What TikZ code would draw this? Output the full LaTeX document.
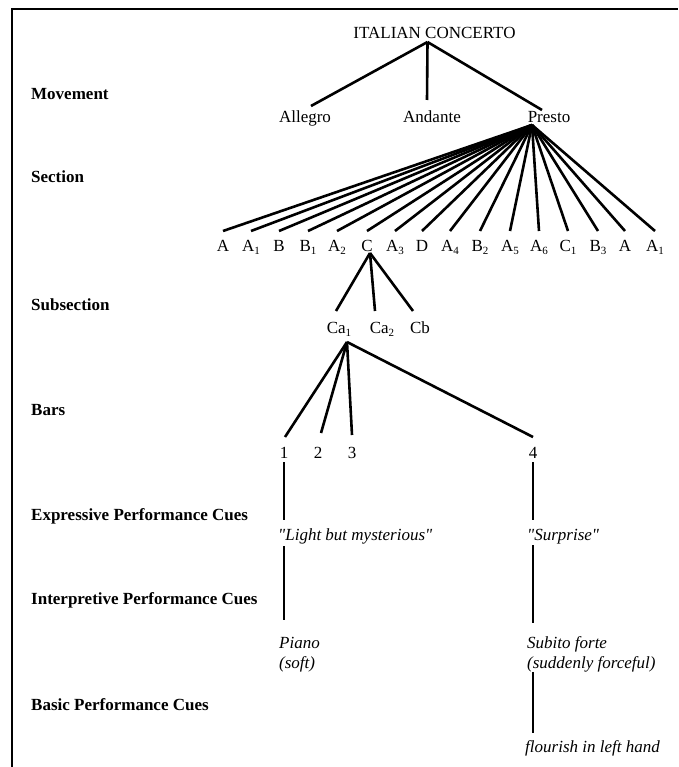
\documentclass[tikz,border=0pt]{standalone}
\usepackage{fontspec}
\setmainfont{Liberation Serif}[Ligatures=TeXOff]
\newcommand{\low}[1]{\raisebox{-3.5pt}{\fontsize{11}{11}\selectfont #1}}

\begin{document}
\begin{tikzpicture}[x=1pt,y=1pt,
  term/.style={inner sep=0pt,anchor=base,font=\fontsize{17}{20}\selectfont},
  rowname/.style={inner sep=0pt,anchor=base west,font=\fontsize{17}{20}\selectfont\bfseries},
  cue/.style={inner sep=0pt,anchor=base west,align=left,font=\fontsize{17}{20}\selectfont\itshape},
  branch/.style={line width=2.6pt}]
\useasboundingbox (0,0) rectangle (678,-767);
% frame
\draw [line width=1.5pt] (12,-767) -- (12,-9) -- (678,-9);

% level names
\node [rowname] (movement) at (31,-100) {Movement};
\node [rowname] (section) at (31,-183) {Section};
\node [rowname] (subsection) at (31,-310) {Subsection};
\node [rowname] (bars) at (31,-415) {Bars};
\node [rowname] (expressive) at (31,-520) {Expressive Performance Cues};
\node [rowname] (interpretive) at (31,-604) {Interpretive Performance Cues};
\node [rowname] (basic) at (31,-710) {Basic Performance Cues};

% piece and movements
\node [term] (title) at (434.5,-39) {ITALIAN CONCERTO};
\node [term] (allegro) at (305,-123) {Allegro};
\node [term] (andante) at (432,-123) {Andante};
\node [term] (presto) at (549,-123) {Presto};
\coordinate (tj) at ([xshift=-7pt,yshift=-3pt]title.base);
\draw [branch] (tj) -- ([xshift=6pt,yshift=17pt]allegro.base);
\draw [branch] (tj) -- ([xshift=-5pt,yshift=23pt]andante.base);
\draw [branch] (tj) -- ([xshift=-7pt,yshift=13pt]presto.base);

% sections of the presto
\node [term] (s1) at (223,-251) {A};
\node [term] (s2) at (251,-251) {A\low{1}};
\node [term] (s3) at (279,-251) {B};
\node [term] (s4) at (308,-251) {B\low{1}};
\node [term] (s5) at (337,-251) {A\low{2}};
\node [term] (s6) at (367,-251) {C};
\node [term] (s7) at (395,-251) {A\low{3}};
\node [term] (s8) at (422,-251) {D};
\node [term] (s9) at (450,-251) {A\low{4}};
\node [term] (s10) at (480,-251) {B\low{2}};
\node [term] (s11) at (510,-251) {A\low{5}};
\node [term] (s12) at (539,-251) {A\low{6}};
\node [term] (s13) at (568,-251) {C\low{1}};
\node [term] (s14) at (598,-251) {B\low{3}};
\node [term] (s15) at (625,-251) {A};
\node [term] (s16) at (655,-251) {A\low{1}};
\coordinate (pj) at ([xshift=-17pt,yshift=-2pt]presto.base);
\draw [branch] (pj) -- ([yshift=20pt]s1.base);
\draw [branch] (pj) -- ([yshift=20pt]s2.base);
\draw [branch] (pj) -- ([yshift=20pt]s3.base);
\draw [branch] (pj) -- ([yshift=20pt]s4.base);
\draw [branch] (pj) -- ([yshift=20pt]s5.base);
\draw [branch] (pj) -- ([yshift=20pt]s6.base);
\draw [branch] (pj) -- ([yshift=20pt]s7.base);
\draw [branch] (pj) -- ([yshift=20pt]s8.base);
\draw [branch] (pj) -- ([yshift=20pt]s9.base);
\draw [branch] (pj) -- ([yshift=20pt]s10.base);
\draw [branch] (pj) -- ([yshift=20pt]s11.base);
\draw [branch] (pj) -- ([yshift=20pt]s12.base);
\draw [branch] (pj) -- ([yshift=20pt]s13.base);
\draw [branch] (pj) -- ([yshift=20pt]s14.base);
\draw [branch] (pj) -- ([yshift=20pt]s15.base);
\draw [branch] (pj) -- ([yshift=20pt]s16.base);

% subsections of C
\node [term] (ca1) at (339,-333) {Ca\low{1}};
\node [term] (ca2) at (382,-333) {Ca\low{2}};
\node [term] (cb) at (420,-333) {Cb};
\coordinate (cj) at ([xshift=3pt,yshift=-2pt]s6.base);
\draw [branch] (cj) -- ([xshift=-3pt,yshift=22pt]ca1.base);
\draw [branch] (cj) -- ([xshift=-7pt,yshift=22pt]ca2.base);
\draw [branch] (cj) -- ([xshift=-7pt,yshift=22pt]cb.base);

% bars of Ca1
\node [term] (b1) at (284,-458) {1};
\node [term] (b2) at (318,-458) {2};
\node [term] (b3) at (352,-458) {3};
\node [term] (b4) at (533,-458) {4};
\coordinate (aj) at ([xshift=8pt,yshift=-9pt]ca1.base);
\draw [branch] (aj) -- ([xshift=1pt,yshift=21pt]b1.base);
\draw [branch] (aj) -- ([xshift=3pt,yshift=25pt]b2.base);
\draw [branch] (aj) -- ([yshift=23pt]b3.base);
\draw [branch] (aj) -- ([yshift=21pt]b4.base);

% performance cues
\node [cue] (light) at (278,-540) {"Light but mysterious"};
\node [cue] (surprise) at (527,-540) {"Surprise"};
\node [cue] (piano) at (279,-668) {Piano\\(soft)};
\node [cue] (subito) at (527,-668) {Subito forte\\(suddenly forceful)};
\node [cue] (flourish) at (525,-752) {flourish in left hand};
\draw [branch] ([yshift=-4pt]b1.base) -- ([yshift=20pt]light.base -| b1);
\draw [branch] ([yshift=-6pt]light.base -| b1) -- ([yshift=48pt]piano.base -| b1);
\draw [branch] ([yshift=-4pt]b4.base) -- ([yshift=20pt]surprise.base -| b4);
\draw [branch] ([yshift=-5pt]surprise.base -| b4) -- ([yshift=45pt]subito.base -| b4);
\draw [branch] (subito.south -| b4) -- ([yshift=19pt]flourish.base -| b4);
\end{tikzpicture}
\end{document}
